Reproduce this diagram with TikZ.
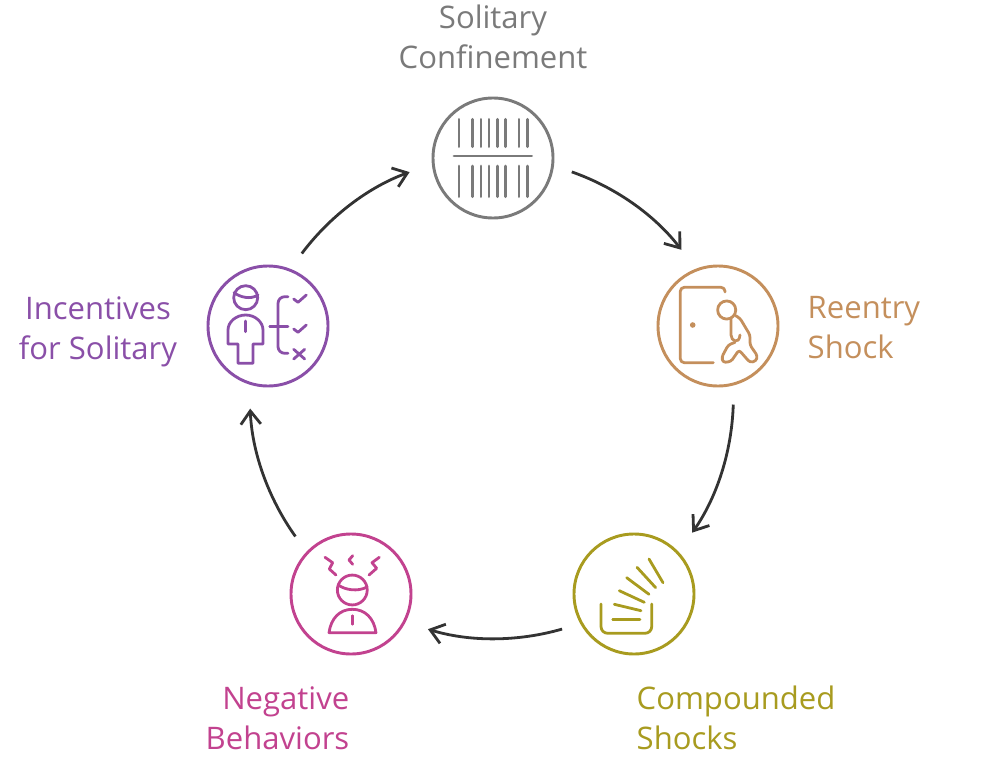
\documentclass[tikz,border=0pt]{standalone}
\usepackage{fontspec}
\setmainfont{Open Sans}
\usetikzlibrary{arrows.meta}
\definecolor{confgrey}{HTML}{7A7A7A}
\definecolor{reentrytan}{HTML}{C48F5C}
\definecolor{shockolive}{HTML}{A89B1F}
\definecolor{behavpink}{HTML}{C2428F}
\definecolor{incentpurple}{HTML}{8A4FA8}
\definecolor{flowdark}{HTML}{333333}
\begin{document}
\begin{tikzpicture}[
    x=0.75pt, y=-0.75pt,
    ring/.style={circle, draw=#1, line width=2.2pt, minimum size=90pt, inner sep=0pt, outer sep=15pt},
    icon/.style={draw=#1, line width=2.1pt, line cap=round, line join=round},
    label/.style={text=#1, font=\fontsize{23.3}{30}\selectfont},
    flow/.style={draw=flowdark, line width=2.1pt, shorten >=3.5pt, -{Straight Barb[length=10pt, width=15pt, line width=2.1pt]}}
]
    \useasboundingbox (0,0) rectangle (1000,760);

    % Circles
    \node[ring=confgrey] (conf) at (493,158) {};
    \node[ring=reentrytan] (reentry) at (718,326) {};
    \node[ring=shockolive] (shocks) at (634,594) {};
    \node[ring=behavpink] (behav) at (351,594) {};
    \node[ring=incentpurple] (incent) at (268,326) {};

    % Labels
    \node[label=confgrey, align=center] (conflabel) at (493,37) {Solitary\\Confinement};
    \node[label=reentrytan, align=left, anchor=west] (reentrylabel) at (803,328) {Reentry\\Shock};
    \node[label=shockolive, align=left, anchor=west] (shockslabel) at (632,718) {Compounded\\Shocks};
    \node[label=behavpink, align=right, anchor=east] (behavlabel) at (354,718) {Negative\\Behaviors};
    \node[label=incentpurple, align=center] (incentlabel) at (98,332) {Incentives\\for Solitary};

    % Arrows
    \draw[flow] (conf.-10) to[bend left=16.6, looseness=0.87] (reentry.115);
    \draw[flow] (reentry.-79) to[bend left=16.6, looseness=0.87] (shocks.46);
    \draw[flow] (shocks.206.6) to[bend left=16.6, looseness=0.87] (behav.-25);
    \draw[flow] (behav.134) to[bend left=16.6, looseness=0.87] (incent.-103);
    \draw[flow] (incent.65) to[bend left=16.6, looseness=0.87] (conf.189.5);

    % Bars
    \foreach \x in {459,472.3,481,489,497.3,505.7,519,527.3} {
        \draw[icon=confgrey] (\x,119.3) -- (\x,146.7);
        \draw[icon=confgrey] (\x,166) -- (\x,196.7);
    }
    \draw[icon=confgrey] (454,156) -- (531.7,156);

    % Door and figure
    \draw[icon=reentrytan, rounded corners=3pt] (725,292) -- (725,287.3) -- (680.3,287.3) -- (680.3,362.7) -- (713.3,362.7);
    \fill[reentrytan] (692.7,325) circle (2.1pt);
    \draw[icon=reentrytan] (726.7,310) circle (6.8pt);
    \draw[icon=reentrytan] (731,318) -- (731,335) .. controls (731,341) and (739,345) .. (740,335);
    \draw[icon=reentrytan, rounded corners=2pt] (735.7,315.7) -- (740,318.3) -- (750,335) -- (750,345) -- (757.5,356) -- (756,361) -- (750,362.5) -- (739,350) -- (731,361.5) -- (723,362.5) -- (721.8,357) -- (728.3,345) -- (735,342.3);

    % Tray and rays
    \draw[icon=shockolive, rounded corners=5pt] (601,604) -- (601,633.3) -- (651.7,633.3) -- (651.7,604);
    \draw[icon=shockolive] (612.7,619.3) -- (640,619.3);
    \draw[icon=shockolive] (614.3,604.3) -- (641,610.7);
    \draw[icon=shockolive] (619.3,590.7) -- (644.3,602.3);
    \draw[icon=shockolive] (626.7,577.7) -- (649,594.3);
    \draw[icon=shockolive] (637,567.3) -- (655.7,587.7);
    \draw[icon=shockolive] (649,559) -- (663,582.7);

    % Agitated head
    \draw[icon=behavpink] (352.3,590) circle (11.2pt);
    \draw[icon=behavpink] (338.3,585) .. controls (345,590) and (358,592) .. (367,587);
    \draw[icon=behavpink] (329,632.7) .. controls (331,618) and (340,609.3) .. (352.3,609.3) .. controls (365,609.3) and (374,618) .. (376,632.7) -- cycle;
    \draw[icon=behavpink] (352.3,615.7) -- (352.3,624.3);
    \draw[icon=behavpink] (325,557.3) -- (332.7,562.7) -- (329.3,569) -- (336,575);
    \draw[icon=behavpink] (352.7,555.7) -- (349,560) -- (352.7,564.3);
    \draw[icon=behavpink] (379.3,557.3) -- (372,562.7) -- (376.7,568.3) -- (369,575);

    % Person and checklist
    \draw[icon=incentpurple] (245.7,297.7) circle (9pt);
    \draw[icon=incentpurple] (234,292.7) .. controls (240,297) and (250,300) .. (258,295);
    \draw[icon=incentpurple] (238,363.3) -- (238,344) -- (228,344) -- (228,330) .. controls (228,322) and (236,315) .. (245.7,315) .. controls (255,315) and (263,322) .. (263,330) -- (263,344) -- (253,344) -- (253,363.3) -- cycle;
    \draw[icon=incentpurple] (245.7,321) -- (245.7,331.7);
    \draw[icon=incentpurple, rounded corners=5pt] (288,296.7) -- (278,296.7) -- (278,353.3) -- (288,353.3);
    \draw[icon=incentpurple] (269.7,326.7) -- (288,326.7);
    \draw[icon=incentpurple] (293.7,299) -- (298,302.3) -- (306.3,295);
    \draw[icon=incentpurple] (293.7,329) -- (298,332.3) -- (306.3,325);
    \draw[icon=incentpurple] (293.7,349.3) -- (304.7,359);
    \draw[icon=incentpurple] (304.7,349.3) -- (293.7,359);
\end{tikzpicture}
\end{document}
